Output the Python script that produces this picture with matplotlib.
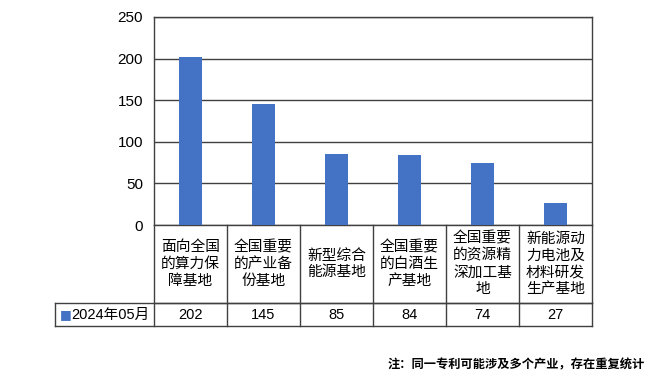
import matplotlib.pyplot as plt
import matplotlib.transforms as mtransforms

plt.rcParams['font.family'] = ['Liberation Sans', 'Noto Sans CJK SC', 'DejaVu Sans']

categories = ['面向全国\n的算力保\n障基地', '全国重要\n的产业备\n份基地', '新型综合\n能源基地',
              '全国重要\n的白酒生\n产基地', '全国重要\n的资源精\n深加工基\n地', '新能源动\n力电池及\n材料研发\n生产基地']
values = [202, 145, 85, 84, 74, 27]
series_name = '2024年05月'
yticks = [0, 50, 100, 150, 200, 250]
note = '注：同一专利可能涉及多个产业，存在重复统计'

W, H = 660, 382
fig = plt.figure(figsize=(W / 100, H / 100), dpi=100)
ax = fig.add_axes([154 / W, 1 - 225 / H, (592 - 154) / W, (225 - 17) / H])

x = range(len(values))
ax.bar(x, values, width=0.31, color='#4472C4', zorder=3)
ax.set_xlim(-0.5, len(values) - 0.5)
ax.set_ylim(0, 250)
ax.set_yticks(yticks)
ax.tick_params(axis='y', length=0, labelsize=11, pad=8)
ax.set_xticks([])
ax.grid(axis='y', color='#404040', linewidth=1, zorder=0)
for s in ax.spines.values():
    s.set_color('#404040')
    s.set_linewidth(1)

# data table below the plot
trans = mtransforms.blended_transform_factory(ax.transData, ax.transAxes)
ppu = (592 - 154) / len(values)  # pixels per data unit
x_left = -0.5 - (154 - 55) / ppu
y0 = 0.0
y1 = -(303 - 225) / 208
y2 = -(326 - 225) / 208
lc = '#404040'
kw = dict(transform=trans, clip_on=False, color=lc, linewidth=1)
ax.plot([-0.5, len(values) - 0.5], [y1, y1], **kw)
ax.plot([x_left, len(values) - 0.5], [y1, y1], **kw)
ax.plot([x_left, len(values) - 0.5], [y2, y2], **kw)
ax.plot([x_left, x_left], [y1, y2], **kw)
for i in range(len(values) + 1):
    ax.plot([i - 0.5, i - 0.5], [y0, y2], **kw)
for i, (c, v) in enumerate(zip(categories, values)):
    ax.text(i, (y0 + y1) / 2, c, transform=trans, ha='center', va='center',
            fontsize=10.6, linespacing=1.25)
    ax.text(i, (y1 + y2) / 2, str(v), transform=trans, ha='center', va='center',
            fontsize=10.5)
ax.text(x_left + 0.07, (y1 + y2) / 2, '■', transform=trans, ha='left', va='center',
        fontsize=9, color='#4472C4', family=['DejaVu Sans'])
ax.text(x_left + 0.22, (y1 + y2) / 2, series_name, transform=trans, ha='left', va='center',
        fontsize=10.5)

fig.text(645 / W, 1 - 365 / H, note, ha='right', va='center', fontsize=8.8,
         fontweight='bold', family=['Noto Sans CJK SC'])

fig.savefig('out.png', dpi=100)
